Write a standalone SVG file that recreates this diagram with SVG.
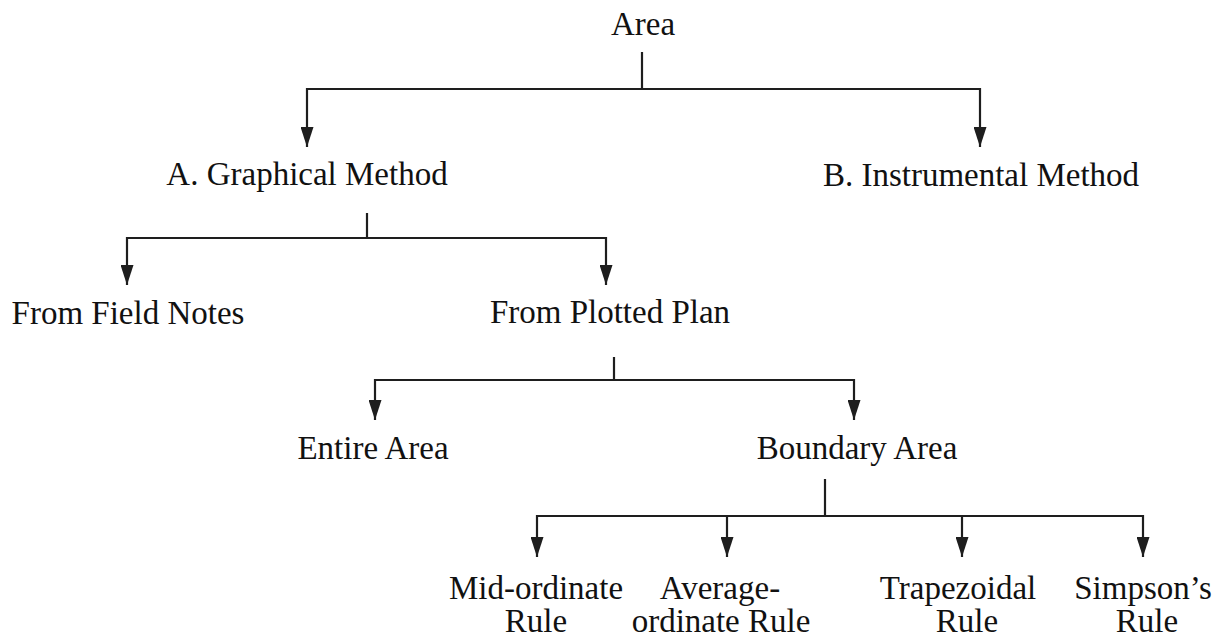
<svg xmlns="http://www.w3.org/2000/svg" width="1224" height="641" viewBox="0 0 1224 641">
  <style>
    .lbl { font-family: "Liberation Serif", "Times New Roman", serif; font-size: 33px; fill: #111111; text-anchor: middle; }
    .wire { fill: none; stroke: #1e1e1e; stroke-width: 2.2; }
    .arrow { fill: none; stroke: #1e1e1e; stroke-width: 2.2; marker-end: url(#head); }
  </style>
  <defs>
    <marker id="head" viewBox="0 0 20 13" refX="20" refY="6.5" markerWidth="20" markerHeight="13" markerUnits="userSpaceOnUse" orient="auto">
      <path d="M0,0 L20,6.5 L0,13 Z" fill="#1e1e1e"/>
    </marker>
  </defs>
  <rect width="1224" height="641" fill="#ffffff"/>

  <!-- tree connectors -->
  <g id="connectors">
    <!-- Area -> methods -->
    <path class="wire" d="M642,52 V89 M307,89 H980"/>
    <path class="arrow" d="M307,88 V147"/>
    <path class="arrow" d="M980,88 V147"/>
    <!-- Graphical method -> sources -->
    <path class="wire" d="M367,213 V238 M127,238 H606"/>
    <path class="arrow" d="M127,237 V285"/>
    <path class="arrow" d="M606,237 V285"/>
    <!-- Plotted plan -> area types -->
    <path class="wire" d="M614,357 V380 M375,380 H854"/>
    <path class="arrow" d="M375,379 V420"/>
    <path class="arrow" d="M854,379 V420"/>
    <!-- Boundary area -> rules -->
    <path class="wire" d="M825,479 V516 M537,516 H1143"/>
    <path class="arrow" d="M537,515 V557"/>
    <path class="arrow" d="M727,515 V557"/>
    <path class="arrow" d="M962,515 V557"/>
    <path class="arrow" d="M1143,515 V557"/>
  </g>

  <g id="area"><text class="lbl" x="643" y="35">Area</text></g>
  <g id="graphical"><text class="lbl" x="307" y="185">A. Graphical Method</text></g>
  <g id="instrumental"><text class="lbl" x="981" y="186">B. Instrumental Method</text></g>
  <g id="field-notes"><text class="lbl" x="128" y="324">From Field Notes</text></g>
  <g id="plotted-plan"><text class="lbl" x="610" y="323">From Plotted Plan</text></g>
  <g id="entire-area"><text class="lbl" x="373" y="459">Entire Area</text></g>
  <g id="boundary-area"><text class="lbl" x="857" y="459">Boundary Area</text></g>
  <g id="mid-ordinate">
    <text class="lbl" x="536" y="599">Mid-ordinate</text>
    <text class="lbl" x="536" y="632">Rule</text>
  </g>
  <g id="average-ordinate">
    <text class="lbl" x="720" y="599">Average-</text>
    <text class="lbl" x="721" y="632">ordinate Rule</text>
  </g>
  <g id="trapezoidal">
    <text class="lbl" x="958" y="599">Trapezoidal</text>
    <text class="lbl" x="967" y="632">Rule</text>
  </g>
  <g id="simpson">
    <text class="lbl" x="1143" y="599">Simpson’s</text>
    <text class="lbl" x="1147" y="632">Rule</text>
  </g>
</svg>
